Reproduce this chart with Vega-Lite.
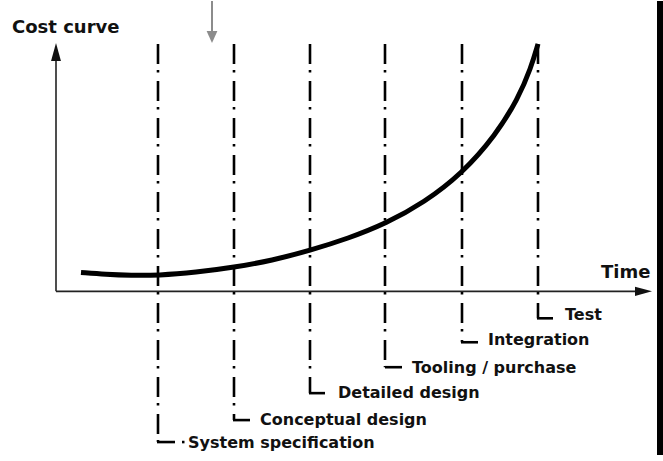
{
  "$schema": "https://vega.github.io/schema/vega-lite/v6.json",
  "width": 663,
  "height": 461,
  "autosize": {"type": "fit", "contains": "padding"},
  "padding": 0,
  "background": "white",
  "config": {"view": {"stroke": null}},
  "datasets": {
    "frame": [{"x": 601, "x2": 607, "y": -164, "y2": 291}],
    "axes": [
      {"axis": "cost", "x": 0, "x2": 0, "y": 0, "y2": 236},
      {"axis": "time", "x": 0, "x2": 584, "y": 0, "y2": 0}
    ],
    "arrowUp": [{"x": 0, "y": 240}],
    "arrowRight": [{"x": 587.5, "y": 0}],
    "arrowDown": [{"x": 156, "y": 255}],
    "pointer": [{"x": 156, "x2": 156, "y": 291, "y2": 259}],
    "phases": [
      {"phase": "System specification", "x": 102, "y": 248, "y2": -151},
      {"phase": "Conceptual design", "x": 178, "y": 248, "y2": -129},
      {"phase": "Detailed design", "x": 254, "y": 248, "y2": -102},
      {"phase": "Tooling / purchase", "x": 329, "y": 248, "y2": -76},
      {"phase": "Integration", "x": 406, "y": 248, "y2": -51},
      {"phase": "Test", "x": 482, "y": 248, "y2": -27}
    ],
    "ticks": [
      {"phase": "System specification", "x": 101, "x2": 119, "y": -151},
      {"phase": "System specification dot", "x": 126, "x2": 128.5, "y": -151},
      {"phase": "Conceptual design", "x": 177, "x2": 194, "y": -129},
      {"phase": "Detailed design", "x": 253, "x2": 269, "y": -102},
      {"phase": "Tooling / purchase", "x": 329, "x2": 346, "y": -76},
      {"phase": "Integration", "x": 405, "x2": 422, "y": -51},
      {"phase": "Test", "x": 481, "x2": 497, "y": -27}
    ],
    "curve": [
      {"x": 25, "y": 19},
      {"x": 50, "y": 17},
      {"x": 75, "y": 16},
      {"x": 102, "y": 16},
      {"x": 140, "y": 19},
      {"x": 178, "y": 24},
      {"x": 216, "y": 31},
      {"x": 254, "y": 41},
      {"x": 292, "y": 53},
      {"x": 330, "y": 68},
      {"x": 368, "y": 89},
      {"x": 406, "y": 118},
      {"x": 440, "y": 157},
      {"x": 462, "y": 193},
      {"x": 475, "y": 224},
      {"x": 482, "y": 248}
    ],
    "labels": [
      {"label": "System specification", "x": 132, "y": -157},
      {"label": "Conceptual design", "x": 204, "y": -134},
      {"label": "Detailed design", "x": 282, "y": -107},
      {"label": "Tooling / purchase", "x": 356, "y": -82},
      {"label": "Integration", "x": 432, "y": -54},
      {"label": "Test", "x": 509, "y": -29}
    ],
    "titles": [
      {"label": "Cost curve", "x": -44, "y": 259},
      {"label": "Time", "x": 545, "y": 13}
    ]
  },
  "encoding": {
    "x": {"field": "x", "type": "quantitative", "scale": {"domain": [-56, 607], "nice": false, "zero": false}, "axis": null},
    "y": {"field": "y", "type": "quantitative", "scale": {"domain": [-170, 291], "nice": false, "zero": false}, "axis": null}
  },
  "layer": [
    {
      "data": {"name": "frame"},
      "mark": {"type": "rect", "color": "black"},
      "encoding": {"x2": {"field": "x2"}, "y2": {"field": "y2"}}
    },
    {
      "data": {"name": "axes"},
      "mark": {"type": "rule", "color": "#222222", "strokeWidth": 1.6},
      "encoding": {"x2": {"field": "x2"}, "y2": {"field": "y2"}}
    },
    {
      "data": {"name": "arrowUp"},
      "mark": {"type": "point", "shape": "M0,-1L0.55,1L-0.55,1Z", "size": 324, "filled": true, "color": "#111111", "opacity": 1, "strokeWidth": 0}
    },
    {
      "data": {"name": "arrowRight"},
      "mark": {"type": "point", "shape": "M1,0L-1,-0.55L-1,0.55Z", "size": 289, "filled": true, "color": "#111111", "opacity": 1, "strokeWidth": 0}
    },
    {
      "data": {"name": "pointer"},
      "mark": {"type": "rule", "color": "#8c8c8c", "strokeWidth": 2},
      "encoding": {"x2": {"field": "x2"}, "y2": {"field": "y2"}}
    },
    {
      "data": {"name": "arrowDown"},
      "mark": {"type": "point", "shape": "M0,1L-0.9,-1L0.9,-1Z", "size": 144, "filled": true, "color": "#8c8c8c", "opacity": 1, "strokeWidth": 0}
    },
    {
      "data": {"name": "phases"},
      "mark": {"type": "rule", "color": "black", "strokeWidth": 2.6, "strokeDash": [20, 6, 2.5, 8.5]},
      "encoding": {"y2": {"field": "y2"}}
    },
    {
      "data": {"name": "ticks"},
      "mark": {"type": "rule", "color": "black", "strokeWidth": 2.6},
      "encoding": {"x2": {"field": "x2"}}
    },
    {
      "data": {"name": "curve"},
      "mark": {"type": "line", "color": "black", "strokeWidth": 5, "interpolate": "basis", "strokeCap": "butt"},
      "encoding": {"order": {"field": "x", "type": "quantitative"}}
    },
    {
      "data": {"name": "labels"},
      "mark": {"type": "text", "align": "left", "baseline": "alphabetic", "font": "DejaVu Sans", "fontWeight": "bold", "fontSize": 16, "color": "#111111"},
      "encoding": {"text": {"field": "label"}}
    },
    {
      "data": {"name": "titles"},
      "mark": {"type": "text", "align": "left", "baseline": "alphabetic", "font": "DejaVu Sans", "fontWeight": "bold", "fontSize": 18, "color": "#111111"},
      "encoding": {"text": {"field": "label"}}
    }
  ]
}
